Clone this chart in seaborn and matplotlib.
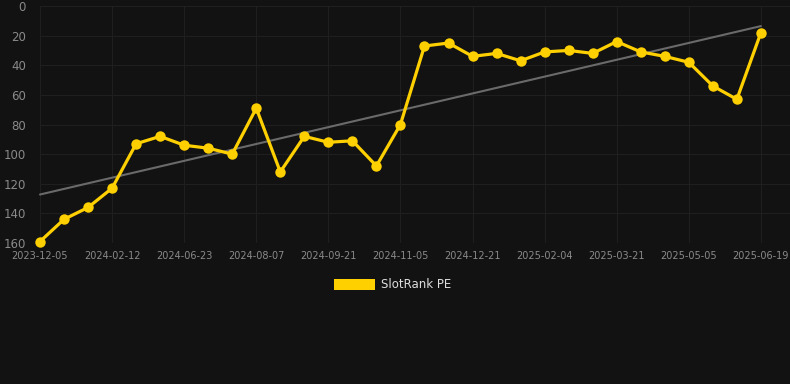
import numpy as np
import pandas as pd
import seaborn as sns
import matplotlib.pyplot as plt
from matplotlib.patches import Patch

# SlotRank PE values (lower is better, axis inverted)
ranks = [159, 144, 136, 123, 93, 88, 94, 96, 100, 69,
         112, 88, 92, 91, 108, 80, 27, 25, 34, 32,
         37, 31, 30, 32, 24, 31, 34, 38, 54, 63, 18]
tick_labels = ["2023-12-05", "2024-02-12", "2024-06-23", "2024-08-07",
               "2024-09-21", "2024-11-05", "2024-12-21", "2025-02-04",
               "2025-03-21", "2025-05-05", "2025-06-19"]
y_ticks = [0, 20, 40, 60, 80, 100, 120, 140, 160]

bg = "#121212"
yellow = "#FFD000"

df = pd.DataFrame({"idx": np.arange(len(ranks)), "rank": ranks})

# trend line = least squares fit on the series
slope, intercept = np.polyfit(df["idx"], df["rank"], 1)
df["trend"] = slope * df["idx"] + intercept

sns.set_style("dark")
plt.rcParams["font.family"] = ["DejaVu Sans"]

fig = plt.figure(figsize=(7.9, 3.84), dpi=100, facecolor=bg)
ax = fig.add_axes([40 / 790, 1 - 243 / 384, 750 / 790, 237 / 384])
ax.set_facecolor(bg)

sns.lineplot(data=df, x="idx", y="trend", ax=ax, color="#6a6a6a", linewidth=1.5)
sns.lineplot(data=df, x="idx", y="rank", ax=ax, color=yellow, linewidth=2.3,
             marker="o", markersize=7.5, markeredgewidth=0, zorder=5)
for line in ax.lines:
    line.set_clip_on(False)

ax.set_xlim(0, 750 / 24.03)
ax.set_ylim(160, 0)
ax.set_yticks(y_ticks)
ax.set_xticks(range(0, len(ranks), 3))
ax.set_xticklabels(tick_labels)
ax.tick_params(axis="y", colors="#8a8a8a", labelsize=8.5, length=0, pad=10)
ax.tick_params(axis="x", colors="#8a8a8a", labelsize=7.0, length=0, pad=6)
ax.grid(True, color="#1f1f1f", linewidth=0.8)
ax.set_xlabel("")
ax.set_ylabel("")
for s in ax.spines.values():
    s.set_visible(False)

handle = Patch(facecolor=yellow, edgecolor="none")
fig.legend([handle], ["SlotRank PE"], loc="center", bbox_to_anchor=(0.497, 1 - 285 / 384),
           frameon=False, fontsize=8.5, labelcolor="#dddddd",
           handlelength=3.4, handleheight=1.0, handletextpad=0.5)

fig.savefig("out.png", dpi=100, facecolor=bg)
